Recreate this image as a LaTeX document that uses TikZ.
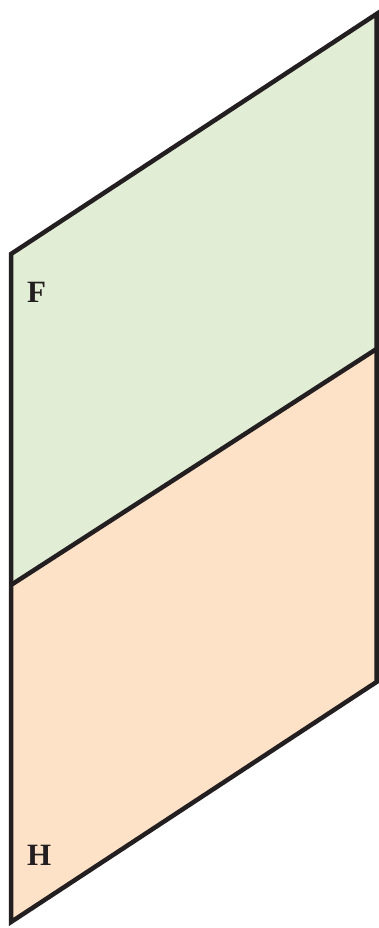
\documentclass[tikz,border=0pt]{standalone}
\usepackage{fontspec}
\setmainfont{Liberation Serif}
\definecolor{fgreen}{HTML}{E2EDD5}
\definecolor{horange}{HTML}{FDE2C8}
\definecolor{ink}{HTML}{231F20}
\begin{document}
\begin{tikzpicture}[x=1pt,y=-1pt,
  edge/.style={draw=ink,line width=4.5pt,line join=miter},
  lbl/.style={inner sep=0pt,anchor=base west,text=ink,font=\fontsize{31}{31}\selectfont\bfseries}]
\useasboundingbox (0,0) rectangle (379,928);
\coordinate (TL) at (11,254);
\coordinate (TR) at (376.5,14);
\coordinate (ML) at (11,585);
\coordinate (MR) at (376.5,349);
\coordinate (BL) at (11,922);
\coordinate (BR) at (376.5,682);
\fill[fgreen] (TL) -- (TR) -- (MR) -- (ML) -- cycle;
\fill[horange] (ML) -- (MR) -- (BR) -- (BL) -- cycle;
\draw[edge] (TL) -- (TR) -- (BR) -- (BL) -- cycle;
\draw[edge] (ML) -- (MR);
\node[lbl] (F) at (27,302) {F};
\node[lbl] (H) at (27,865) {H};
\end{tikzpicture}
\end{document}
